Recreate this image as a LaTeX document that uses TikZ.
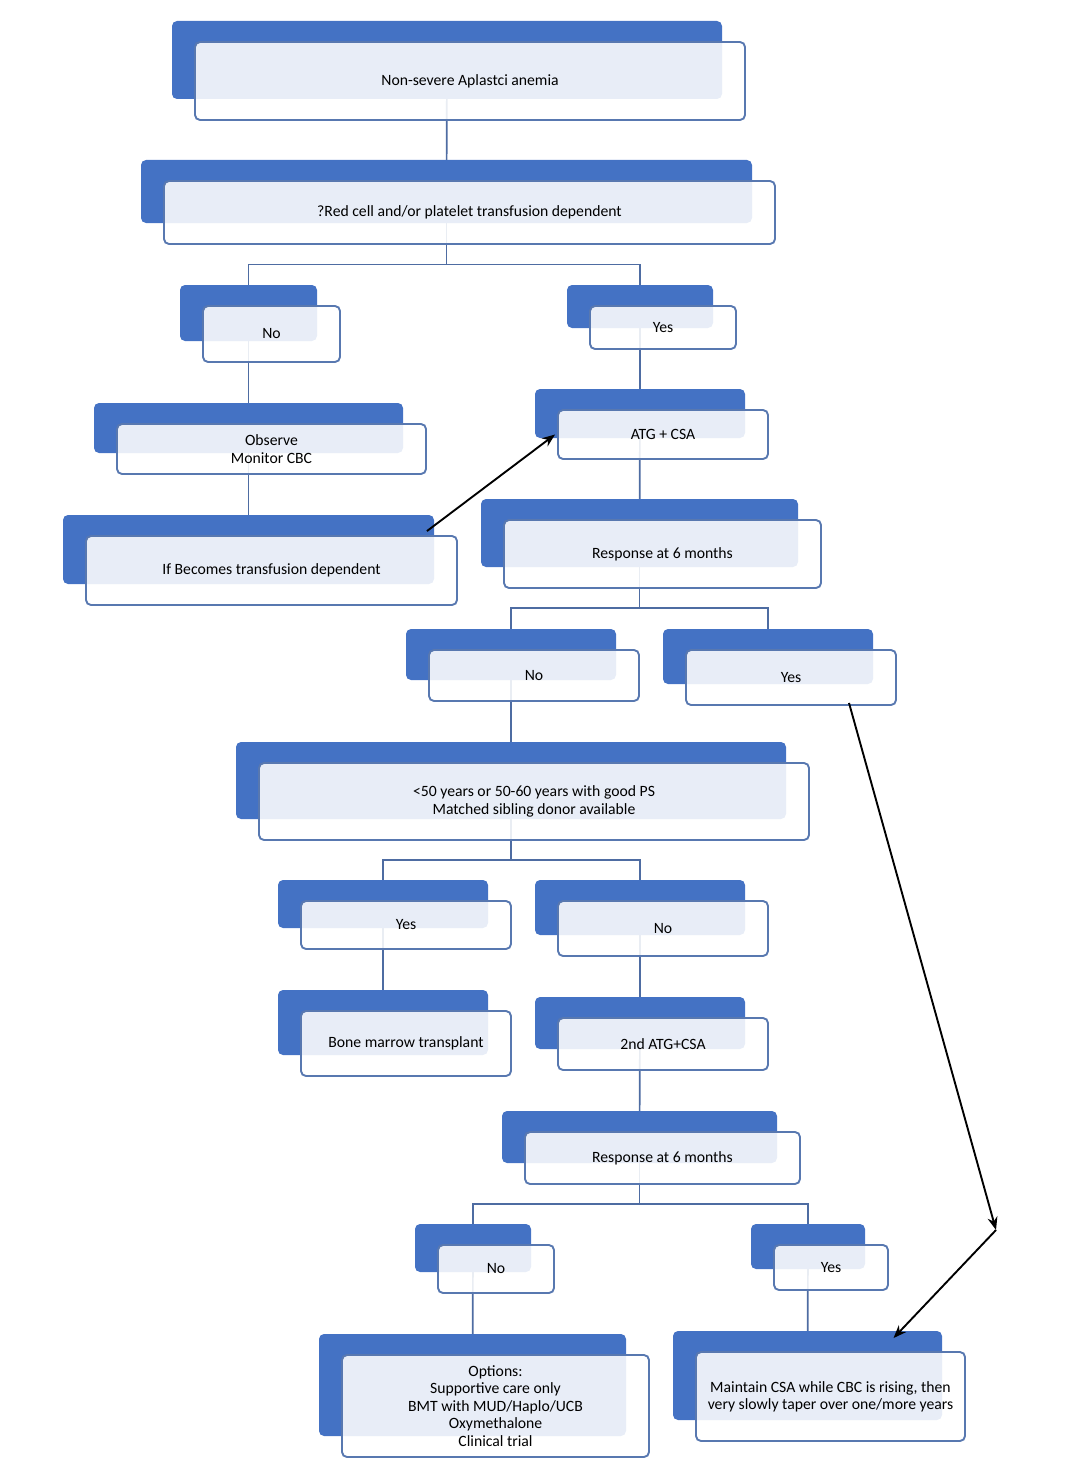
\documentclass[tikz,border=0pt]{standalone}
\usepackage{fontspec}
\setmainfont{Carlito}
\usepackage{tikz}
\usetikzlibrary{arrows.meta, positioning, shadows, backgrounds}

\definecolor{backblue}{RGB}{68,114,196}
\definecolor{boxline}{RGB}{88,120,176}
\definecolor{connline}{RGB}{78,108,162}
\newcommand{\boxfont}{\fontsize{15.7pt}{17.4pt}\selectfont}

\begin{document}
\begin{tikzpicture}[
            x=1pt, y=-1pt,
            stepbox/.style={draw=boxline, line width=1.9pt, rounded corners=5pt, fill=white, fill opacity=0.88, text opacity=1, align=center, font=\boxfont, inner sep=2pt,
                general shadow={fill=backblue, fill opacity=1, draw=none, shadow xshift=-23pt, shadow yshift=21pt}},
            boxsize/.style 2 args={minimum width=#1pt, minimum height=#2pt},
            rear/.style={shift={(-23,-21)}},
            conn/.style={draw=connline, line width=1.7pt},
            arr/.style={-{Stealth[length=13pt, width=10pt]}, line width=1.9pt, black}
        ]
            \useasboundingbox (0,0) rectangle (1080,1482);

            % Top of the tree
            \node[stepbox, boxsize={550}{78}] (nsaa) at (470,81) {Non-severe Aplastci anemia};
            \node[stepbox, boxsize={611}{63}] (red) at (469.5,212.5) {?Red cell and/or platelet transfusion dependent};

            % Not transfusion dependent
            \node[stepbox, boxsize={137}{56}] (no1) at (271.5,334) {No};
            \node[stepbox, boxsize={309}{50}] (obs) at (271.5,449) {Observe\\Monitor CBC};
            \node[stepbox, boxsize={371}{69}] (ifb) at (271.5,570.5) {If Becomes transfusion dependent};

            % Transfusion dependent
            \node[stepbox, boxsize={146}{43}] (yes1) at (663,327.5) {Yes};
            \node[stepbox, boxsize={210}{49}] (atg) at (663,434.5) {ATG + CSA};
            \node[stepbox, boxsize={317}{68}] (resp1) at (662.5,554) {Response at 6 months};
            \node[stepbox, boxsize={210}{51}] (no2) at (534,675.5) {No};
            \node[stepbox, boxsize={210}{55}] (yes2) at (791,677.5) {Yes};

            % No response
            \node[stepbox, boxsize={550}{77}] (msd) at (534,801.5) {<50 years or 50-60 years with good PS\\Matched sibling donor available};
            \node[stepbox, boxsize={210}{48}] (yes3) at (406,925) {Yes};
            \node[stepbox, boxsize={210}{65}] (bmt) at (406,1043.5) {Bone marrow transplant};
            \node[stepbox, boxsize={210}{55}] (no3) at (663,928.5) {No};
            \node[stepbox, boxsize={210}{52}] (atg2) at (663,1044) {2nd ATG+CSA};
            \node[stepbox, boxsize={275}{52}] (resp2) at (662.5,1158) {Response at 6 months};
            \node[stepbox, boxsize={116}{48}] (no4) at (496,1269) {No};
            \node[stepbox, boxsize={114}{45}] (yes4) at (831,1267.5) {Yes};
            \node[stepbox, boxsize={307}{102}] (opt) at (495.5,1406) {Options:\\Supportive care only\\BMT with MUD/Haplo/UCB\\Oxymethalone\\Clinical trial};
            \node[stepbox, boxsize={269}{89}] (csa) at (830.5,1396.5) {Maintain CSA while CBC is rising, then\\very slowly taper over one/more years};

            % Tree connectors behind the boxes
            \begin{scope}[on background layer]
                \draw[conn] ([rear]nsaa.center) -- ([rear]red.center);
                \foreach \child in {no1, yes1}
                    \draw[conn] ([rear]red.center) -- ++(0,73) -| ([rear]\child.center);
                \draw[conn] ([rear]no1.center) -- ([rear]obs.center) -- ([rear]ifb.center);
                \draw[conn] ([rear]yes1.center) -- ([rear]atg.center) -- ([rear]resp1.center);
                \foreach \child in {no2, yes2}
                    \draw[conn] ([rear]resp1.center) -- ++(0,75) -| ([rear]\child.center);
                \draw[conn] ([rear]no2.center) -- ([rear]msd.center);
                \foreach \child in {yes3, no3}
                    \draw[conn] ([rear]msd.center) -- ++(0,79.5) -| ([rear]\child.center);
                \draw[conn] ([rear]yes3.center) -- ([rear]bmt.center);
                \draw[conn] ([rear]no3.center) -- ([rear]atg2.center) -- ([rear]resp2.center);
                \foreach \child in {no4, yes4}
                    \draw[conn] ([rear]resp2.center) -- ++(0,67) -| ([rear]\child.center);
                \draw[conn] ([rear]no4.center) -- ([rear]opt.center);
                \draw[conn] ([rear]yes4.center) -- ([rear]csa.center);
            \end{scope}

            % Cross arrows
            \draw[arr] ([shift={(-31,-4)}]ifb.north east) -- ([xshift=-2pt]atg.west);
            \coordinate (turn) at (996,1230);
            \draw[arr] ([shift={(58,-3)}]yes2.south) -- (turn);
            \draw[arr] (turn) -- ([shift={(63,-13)}]csa.north);

        \end{tikzpicture}
\end{document}
